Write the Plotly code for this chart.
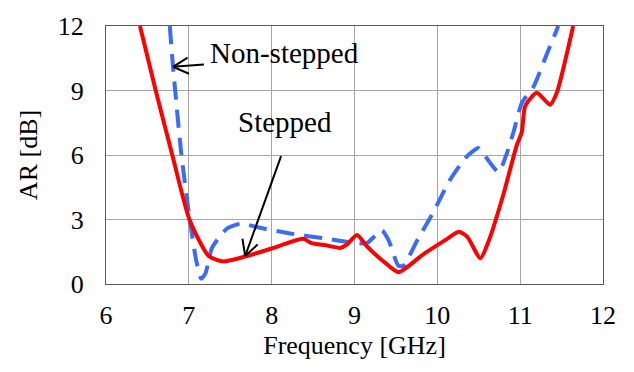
import math
import plotly.graph_objects as go

# Stepped (red, solid)
freq_stepped = [6.41, 6.6, 6.8, 7.01, 7.24, 7.42, 7.70, 8.0, 8.38, 8.48, 8.65, 8.83, 8.91, 9.03,
                9.15, 9.35, 9.53, 9.83, 10.1, 10.26, 10.36, 10.52, 10.62, 10.8, 10.96, 11.02,
                11.06, 11.20, 11.36, 11.44, 11.64]
ar_stepped = [12.0, 9.0, 6.0, 2.97, 1.30, 1.05, 1.30, 1.65, 2.10, 1.90, 1.80, 1.68, 1.84, 2.28,
              1.75, 1.05, 0.55, 1.38, 2.05, 2.43, 2.20, 1.20, 2.0, 4.2, 6.47, 7.07,
              8.27, 8.90, 8.34, 8.87, 12.0]

# Non-stepped (blue, dashed)
freq_nonstepped = [6.77, 6.81, 6.91, 7.01, 7.09, 7.15, 7.20, 7.28, 7.46, 7.62, 7.90, 8.22, 8.62,
                   9.03, 9.15, 9.33, 9.41, 9.53, 9.59, 9.75, 9.95, 10.15, 10.36, 10.50, 10.62,
                   10.74, 10.82, 10.92, 11.02, 11.16, 11.32, 11.46]
ar_nonstepped = [12.0, 10.07, 6.02, 3.03, 1.08, 0.25, 0.48, 1.68, 2.58, 2.80, 2.58, 2.35, 2.13,
                 1.90, 1.90, 2.50, 2.05, 0.85, 0.85, 1.98, 3.33, 4.82, 5.95, 6.32, 5.72,
                 5.20, 5.87, 7.07, 8.42, 9.17, 10.67, 12.0]

x_ticks = [6, 7, 8, 9, 10, 11, 12]
y_ticks = [0, 3, 6, 9, 12]

FONT = '"Liberation Serif", "Times New Roman", Times, serif'

W, H = 634, 372
ML, MR, MT, MB = 106, 31, 17, 88
XR, YR = (6, 12), (0, 12)
px_per_x = (W - ML - MR) / (XR[1] - XR[0])
px_per_y = (H - MT - MB) / (YR[1] - YR[0])

fig = go.Figure()
fig.add_trace(go.Scatter(x=freq_nonstepped, y=ar_nonstepped, mode="lines",
                         line=dict(color="#3b6cf6", width=4, dash="18px,10px", shape="spline", smoothing=0.6),
                         name="Non-stepped", showlegend=False))
fig.add_trace(go.Scatter(x=freq_stepped, y=ar_stepped, mode="lines",
                         line=dict(color="#ff0000", width=4, shape="spline", smoothing=0.6),
                         name="Stepped", showlegend=False))


def open_arrow(tip, tail, arm=19, spread=28):
    fig.add_annotation(x=tip[0], y=tip[1], ax=tail[0], ay=tail[1], xref="x", yref="y",
                       axref="x", ayref="y", text="", showarrow=True, arrowhead=0,
                       arrowwidth=2, arrowcolor="black")
    dx = (tail[0] - tip[0]) * px_per_x
    dy = -(tail[1] - tip[1]) * px_per_y
    ang = math.atan2(dy, dx)
    for s in (-1, 1):
        a = ang + s * math.radians(spread)
        fig.add_annotation(x=tip[0], y=tip[1], ax=arm * math.cos(a), ay=arm * math.sin(a),
                           xref="x", yref="y", text="", showarrow=True, arrowhead=0,
                           arrowwidth=2, arrowcolor="black")


open_arrow((6.81, 10.1), (7.20, 10.22))
fig.add_annotation(x=7.23, y=10.75, xref="x", yref="y", text="Non-stepped", showarrow=False,
                   xanchor="left", yanchor="middle", font=dict(family=FONT, size=29, color="black"))
open_arrow((7.68, 1.30), (8.12, 6.02))
fig.add_annotation(x=8.16, y=7.55, xref="x", yref="y", text="Stepped", showarrow=False,
                   xanchor="center", yanchor="middle", font=dict(family=FONT, size=29, color="black"))

fig.update_layout(
    width=W, height=H,
    margin=dict(l=ML, r=MR, t=MT, b=MB),
    paper_bgcolor="white", plot_bgcolor="white",
    font=dict(family=FONT, size=26, color="black"),
    xaxis=dict(range=list(XR), tickvals=x_ticks, showgrid=True, gridcolor="#a6a6a6", gridwidth=1,
               showline=True, linecolor="#595959", linewidth=1, mirror=True, zeroline=False,
               ticks="outside", ticklen=8, tickcolor="rgba(0,0,0,0)", tickfont=dict(family=FONT, size=26),
               title=dict(text="Frequency [GHz]", standoff=6, font=dict(family=FONT, size=26))),
    yaxis=dict(range=list(YR), tickvals=y_ticks, showgrid=True, gridcolor="#a6a6a6", gridwidth=1,
               showline=True, linecolor="#595959", linewidth=1, mirror=True, zeroline=False,
               ticks="outside", ticklen=16, tickcolor="rgba(0,0,0,0)", tickfont=dict(family=FONT, size=26),
               title=dict(text="AR [dB]", standoff=12, font=dict(family=FONT, size=26))),
)

fig.write_html("out.html")
